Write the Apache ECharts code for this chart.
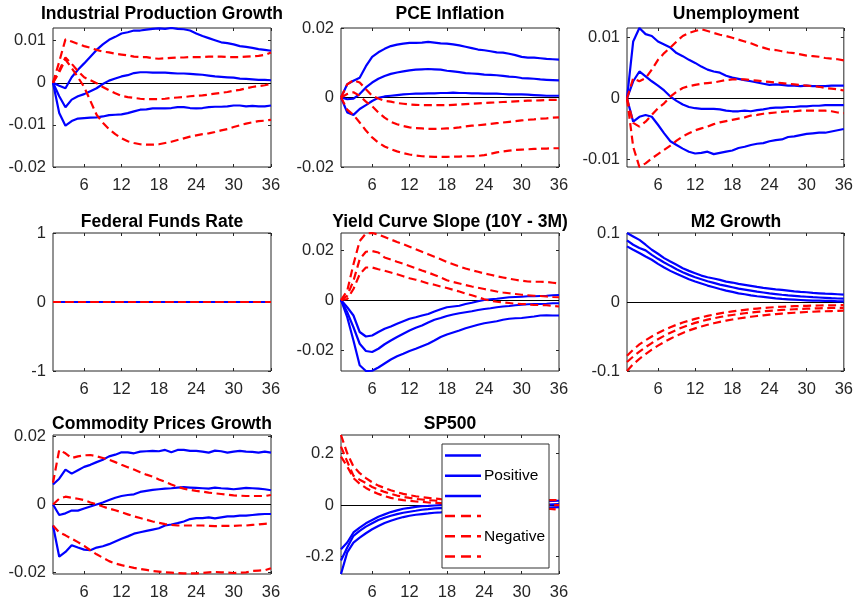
<!DOCTYPE html>
<html>
<head>
<meta charset="utf-8">
<script src="https://cdn.jsdelivr.net/npm/echarts@6/dist/echarts.min.js"></script>
<style>
  html, body { margin: 0; padding: 0; background: #fff; }
  #chart { width: 856px; height: 601px; }
</style>
</head>
<body>
<div id="chart"></div>
<script>
// Impulse responses over a 36-month horizon: median and bands for a
// positive shock (solid blue) and a negative shock (dashed red).
const horizons = [1, 2, 3, 4, 5, 6, 7, 8, 9, 10, 11, 12, 13, 14, 15, 16, 17, 18,
  19, 20, 21, 22, 23, 24, 25, 26, 27, 28, 29, 30, 31, 32, 33, 34, 35, 36];
const xTicks = [6, 12, 18, 24, 30, 36];

const panelTitles = ['Industrial Production Growth', 'PCE Inflation', 'Unemployment',
  'Federal Funds Rate', 'Yield Curve Slope (10Y - 3M)', 'M2 Growth',
  'Commodity Prices Growth', 'SP500'];
const yTicks = [
  [-0.02, -0.01, 0, 0.01],
  [-0.02, 0, 0.02],
  [-0.01, 0, 0.01],
  [-1, 0, 1],
  [-0.02, 0, 0.02],
  [-0.1, 0, 0.1],
  [-0.02, 0, 0.02],
  [-0.2, 0, 0.2]
];
const yMin = [-0.02, -0.02, -0.0112, -1, -0.0284, -0.1, -0.0205, -0.267];
const yMax = [0.013, 0.02, 0.0115, 1, 0.0268, 0.1, 0.0205, 0.272];

// Industrial production growth
const ipPosHi = [0, -0.0007, -0.0013, 0.0013, 0.0031, 0.0046, 0.0062, 0.0078, 0.0091, 0.0102, 0.0109, 0.0117, 0.012, 0.0124, 0.0124, 0.0126, 0.0128, 0.0129, 0.0128, 0.013, 0.0128, 0.0127, 0.0124, 0.0117, 0.0111, 0.0106, 0.0101, 0.0096, 0.0094, 0.0091, 0.0087, 0.0085, 0.0083, 0.008, 0.0078, 0.0076];
const ipPosMid = [0, -0.0032, -0.0058, -0.004, -0.0032, -0.0027, -0.002, -0.0013, -0.0003, 0.0005, 0.001, 0.0015, 0.0018, 0.0023, 0.0025, 0.0025, 0.0024, 0.0024, 0.0024, 0.0023, 0.0022, 0.0022, 0.0021, 0.002, 0.0019, 0.0017, 0.0015, 0.0014, 0.0013, 0.0012, 0.001, 0.0009, 0.0008, 0.0007, 0.0007, 0.0006];
const ipPosLo = [0, -0.0072, -0.0102, -0.0091, -0.0085, -0.0084, -0.0083, -0.0082, -0.008, -0.0077, -0.0076, -0.0075, -0.0072, -0.0068, -0.0064, -0.0063, -0.0061, -0.0061, -0.0061, -0.006, -0.0058, -0.0058, -0.006, -0.0061, -0.006, -0.0058, -0.0057, -0.0057, -0.0056, -0.0054, -0.0054, -0.0056, -0.0055, -0.0056, -0.0056, -0.0054];
const ipNegHi = [0, 0.005, 0.0103, 0.0098, 0.0092, 0.0087, 0.0083, 0.0078, 0.0074, 0.0072, 0.0069, 0.0067, 0.0065, 0.0062, 0.0061, 0.0061, 0.0058, 0.0057, 0.0058, 0.0059, 0.006, 0.006, 0.0061, 0.0061, 0.0061, 0.0062, 0.0062, 0.0062, 0.0061, 0.0061, 0.0061, 0.0062, 0.0063, 0.0064, 0.0066, 0.0072];
const ipNegMid = [0, 0.003, 0.006, 0.0045, 0.0028, 0.0013, 0.0006, -0.0001, -0.001, -0.0018, -0.0025, -0.0031, -0.0034, -0.0036, -0.0038, -0.0039, -0.0039, -0.0039, -0.0038, -0.0036, -0.0035, -0.0034, -0.0032, -0.0031, -0.003, -0.0028, -0.0026, -0.0024, -0.0022, -0.0019, -0.0017, -0.0013, -0.001, -0.0008, -0.0006, -0.0003];
const ipNegLo = [0, 0.0025, 0.0055, 0.0035, 0.0013, -0.001, -0.0043, -0.0076, -0.0095, -0.011, -0.0122, -0.0132, -0.0139, -0.0143, -0.0146, -0.0147, -0.0147, -0.0146, -0.0143, -0.014, -0.0136, -0.0132, -0.0128, -0.0125, -0.0122, -0.012, -0.0117, -0.0113, -0.011, -0.0105, -0.0101, -0.0097, -0.0094, -0.0091, -0.009, -0.0088];

// PCE inflation
const pcePosHi = [0, 0.0038, 0.0048, 0.0057, 0.009, 0.0117, 0.013, 0.014, 0.0148, 0.0152, 0.0155, 0.0157, 0.0157, 0.0158, 0.016, 0.0158, 0.0156, 0.0155, 0.0153, 0.015, 0.0146, 0.0142, 0.0138, 0.0136, 0.0133, 0.013, 0.0129, 0.0126, 0.0122, 0.0117, 0.0115, 0.0115, 0.0113, 0.0111, 0.011, 0.0109];
const pcePosMid = [0, -0.0005, -0.0003, 0.001, 0.0029, 0.0043, 0.0054, 0.0062, 0.0068, 0.0072, 0.0075, 0.0078, 0.008, 0.0081, 0.0082, 0.0081, 0.008, 0.0077, 0.0075, 0.0073, 0.007, 0.0069, 0.0068, 0.0066, 0.0065, 0.0064, 0.0062, 0.006, 0.0059, 0.0056, 0.0055, 0.0054, 0.0052, 0.0051, 0.005, 0.0049];
const pcePosLo = [0, -0.0043, -0.005, -0.0033, -0.0022, -0.001, -0.0001, 0.0003, 0.0005, 0.0007, 0.0009, 0.001, 0.0011, 0.0011, 0.0012, 0.0012, 0.0013, 0.0013, 0.0014, 0.0013, 0.0013, 0.0012, 0.0012, 0.0011, 0.0011, 0.0011, 0.001, 0.0009, 0.0009, 0.0009, 0.0008, 0.0007, 0.0006, 0.0005, 0.0005, 0.0005];
const pceNegHi = [0, 0.0038, 0.005, 0.0043, 0.0024, 0.0005, -0.0003, -0.001, -0.0012, -0.0016, -0.0018, -0.002, -0.0021, -0.0022, -0.0022, -0.0022, -0.0022, -0.0022, -0.0021, -0.002, -0.0019, -0.0018, -0.0017, -0.0016, -0.0015, -0.0014, -0.0013, -0.0012, -0.0011, -0.001, -0.0009, -0.0009, -0.0008, -0.0007, -0.0007, -0.0007];
const pceNegMid = [0, 0.001, 0.0015, 0.0005, -0.0012, -0.0025, -0.0043, -0.0058, -0.007, -0.0077, -0.0082, -0.0086, -0.0088, -0.0089, -0.009, -0.009, -0.009, -0.0089, -0.0088, -0.0086, -0.0083, -0.0081, -0.008, -0.0078, -0.0076, -0.0074, -0.0072, -0.007, -0.0068, -0.0066, -0.0064, -0.0063, -0.0061, -0.006, -0.0058, -0.0057];
const pceNegLo = [0, -0.0035, -0.005, -0.0072, -0.0095, -0.0115, -0.013, -0.0141, -0.0149, -0.0155, -0.016, -0.0164, -0.0167, -0.0169, -0.017, -0.0171, -0.0171, -0.0171, -0.017, -0.017, -0.0169, -0.0169, -0.0168, -0.0166, -0.0162, -0.0158, -0.0155, -0.0153, -0.0151, -0.015, -0.0149, -0.0148, -0.0147, -0.0147, -0.0146, -0.0146];

// Unemployment
const unPosHi = [0, 0.0093, 0.0115, 0.0105, 0.0102, 0.0093, 0.0088, 0.0083, 0.0074, 0.0069, 0.0063, 0.0058, 0.0052, 0.0047, 0.0044, 0.0042, 0.0037, 0.0034, 0.0032, 0.003, 0.0028, 0.0026, 0.0024, 0.0022, 0.0023, 0.0022, 0.0021, 0.0021, 0.002, 0.0021, 0.002, 0.002, 0.002, 0.0021, 0.0021, 0.0021];
const unPosMid = [0, 0.0028, 0.0044, 0.0036, 0.0028, 0.0021, 0.0013, 0.0003, -0.0004, -0.001, -0.0014, -0.0016, -0.0017, -0.0017, -0.0017, -0.0018, -0.002, -0.0021, -0.0021, -0.002, -0.0021, -0.0019, -0.0018, -0.0016, -0.0015, -0.0015, -0.0014, -0.0014, -0.0013, -0.0013, -0.0012, -0.0012, -0.0011, -0.0011, -0.0011, -0.0011];
const unPosLo = [0, -0.0038, -0.003, -0.0027, -0.003, -0.0043, -0.0057, -0.007, -0.0076, -0.0082, -0.0087, -0.009, -0.0089, -0.0087, -0.0091, -0.0089, -0.0087, -0.0085, -0.0081, -0.0079, -0.0076, -0.0074, -0.0073, -0.007, -0.0068, -0.0067, -0.0063, -0.0062, -0.006, -0.0058, -0.0057, -0.0056, -0.0056, -0.0054, -0.0052, -0.005];
const unNegHi = [0, 0.0033, 0.0028, 0.0033, 0.0047, 0.0063, 0.0074, 0.0083, 0.0093, 0.0102, 0.0107, 0.011, 0.0113, 0.011, 0.0107, 0.0104, 0.0102, 0.0099, 0.0096, 0.0093, 0.009, 0.0086, 0.0083, 0.008, 0.0079, 0.0077, 0.0075, 0.0074, 0.0072, 0.007, 0.0069, 0.0068, 0.0066, 0.0065, 0.0064, 0.0062];
const unNegMid = [0, -0.004, -0.0046, -0.0038, -0.0027, -0.0016, -0.0008, 0.0003, 0.0011, 0.0017, 0.002, 0.0022, 0.0024, 0.0025, 0.0026, 0.0028, 0.003, 0.0031, 0.0031, 0.0031, 0.003, 0.0029, 0.0028, 0.0027, 0.0026, 0.0025, 0.0024, 0.0023, 0.0022, 0.0021, 0.002, 0.0019, 0.0017, 0.0016, 0.0015, 0.0013];
const unNegLo = [0, -0.0079, -0.0112, -0.0106, -0.0098, -0.0091, -0.0084, -0.0077, -0.0069, -0.0062, -0.0057, -0.0052, -0.0049, -0.0046, -0.0042, -0.0039, -0.0037, -0.0035, -0.0033, -0.0031, -0.0028, -0.0027, -0.0025, -0.0024, -0.0023, -0.0022, -0.0021, -0.0021, -0.002, -0.002, -0.002, -0.002, -0.002, -0.0021, -0.0023, -0.0024];

// Federal funds rate (held fixed)
const ffPosHi = [0, 0, 0, 0, 0, 0, 0, 0, 0, 0, 0, 0, 0, 0, 0, 0, 0, 0, 0, 0, 0, 0, 0, 0, 0, 0, 0, 0, 0, 0, 0, 0, 0, 0, 0, 0];
const ffPosMid = [0, 0, 0, 0, 0, 0, 0, 0, 0, 0, 0, 0, 0, 0, 0, 0, 0, 0, 0, 0, 0, 0, 0, 0, 0, 0, 0, 0, 0, 0, 0, 0, 0, 0, 0, 0];
const ffPosLo = [0, 0, 0, 0, 0, 0, 0, 0, 0, 0, 0, 0, 0, 0, 0, 0, 0, 0, 0, 0, 0, 0, 0, 0, 0, 0, 0, 0, 0, 0, 0, 0, 0, 0, 0, 0];
const ffNegHi = [0, 0, 0, 0, 0, 0, 0, 0, 0, 0, 0, 0, 0, 0, 0, 0, 0, 0, 0, 0, 0, 0, 0, 0, 0, 0, 0, 0, 0, 0, 0, 0, 0, 0, 0, 0];
const ffNegMid = [0, 0, 0, 0, 0, 0, 0, 0, 0, 0, 0, 0, 0, 0, 0, 0, 0, 0, 0, 0, 0, 0, 0, 0, 0, 0, 0, 0, 0, 0, 0, 0, 0, 0, 0, 0];
const ffNegLo = [0, 0, 0, 0, 0, 0, 0, 0, 0, 0, 0, 0, 0, 0, 0, 0, 0, 0, 0, 0, 0, 0, 0, 0, 0, 0, 0, 0, 0, 0, 0, 0, 0, 0, 0, 0];

// Yield curve slope
const ycPosHi = [0, -0.0029, -0.0062, -0.0128, -0.0146, -0.0142, -0.0128, -0.0115, -0.0106, -0.0095, -0.0085, -0.0075, -0.0069, -0.0062, -0.0056, -0.0046, -0.0037, -0.0029, -0.0026, -0.0023, -0.0016, -0.0011, -0.0005, 0, 0.0003, 0.0005, 0.0008, 0.0011, 0.0012, 0.0013, 0.0015, 0.0015, 0.0016, 0.0017, 0.0019, 0.002];
const ycPosMid = [0, -0.0049, -0.0109, -0.0175, -0.0204, -0.0208, -0.0195, -0.0177, -0.0162, -0.0148, -0.0135, -0.0122, -0.0111, -0.0102, -0.009, -0.0079, -0.0072, -0.0064, -0.0058, -0.0053, -0.0049, -0.0045, -0.004, -0.0036, -0.0033, -0.0029, -0.0026, -0.0024, -0.0021, -0.0019, -0.0017, -0.0016, -0.0016, -0.0015, -0.0013, -0.0013];
const ycPosLo = [0, -0.0069, -0.0162, -0.0261, -0.0284, -0.0283, -0.027, -0.0254, -0.0238, -0.0225, -0.0215, -0.0204, -0.0195, -0.0185, -0.0175, -0.0162, -0.0148, -0.0138, -0.013, -0.0122, -0.0113, -0.0106, -0.0099, -0.0093, -0.0089, -0.0085, -0.0079, -0.0075, -0.0073, -0.0072, -0.0069, -0.0066, -0.0062, -0.0061, -0.0062, -0.0062];
const ycNegHi = [0, 0.0037, 0.0143, 0.0236, 0.0266, 0.0268, 0.0262, 0.0252, 0.0242, 0.0232, 0.0223, 0.0213, 0.0203, 0.0193, 0.0183, 0.0173, 0.0163, 0.0152, 0.0143, 0.0134, 0.0126, 0.0119, 0.0113, 0.0106, 0.0101, 0.0095, 0.009, 0.0085, 0.0081, 0.0077, 0.0074, 0.0073, 0.0073, 0.0072, 0.0069, 0.0066];
const ycNegMid = [0, 0.0017, 0.0077, 0.0163, 0.0193, 0.0196, 0.019, 0.017, 0.0162, 0.0153, 0.0145, 0.0136, 0.0127, 0.0118, 0.011, 0.01, 0.009, 0.0079, 0.0072, 0.0066, 0.006, 0.0054, 0.0049, 0.0044, 0.0039, 0.0034, 0.003, 0.0027, 0.0024, 0.0021, 0.0019, 0.0017, 0.0016, 0.0014, 0.0012, 0.0011];
const ycNegLo = [0, 0.0004, 0.0044, 0.0103, 0.013, 0.013, 0.0123, 0.0117, 0.011, 0.0103, 0.0095, 0.0087, 0.0081, 0.0074, 0.0066, 0.0061, 0.0054, 0.0048, 0.0041, 0.0034, 0.0026, 0.0019, 0.0011, 0.0003, -0.0003, -0.0007, -0.0009, -0.0012, -0.0015, -0.0016, -0.0017, -0.002, -0.002, -0.0021, -0.0024, -0.0026];

// M2 growth
const m2PosHi = [0.1, 0.095, 0.09, 0.083, 0.0757, 0.0699, 0.0636, 0.0587, 0.0539, 0.049, 0.0451, 0.0417, 0.0383, 0.0359, 0.034, 0.032, 0.0296, 0.0282, 0.0262, 0.0248, 0.0233, 0.0218, 0.0204, 0.0194, 0.0184, 0.0175, 0.0165, 0.0155, 0.0146, 0.0141, 0.0131, 0.0126, 0.0121, 0.0117, 0.0112, 0.0107];
const m2PosMid = [0.0893, 0.083, 0.0782, 0.0748, 0.0684, 0.0626, 0.0573, 0.0524, 0.0476, 0.0432, 0.0393, 0.0359, 0.033, 0.0301, 0.0277, 0.0252, 0.0233, 0.0214, 0.0194, 0.018, 0.0165, 0.015, 0.0138, 0.0125, 0.0115, 0.0105, 0.0096, 0.0089, 0.0082, 0.0076, 0.007, 0.0065, 0.006, 0.0055, 0.0051, 0.0048];
const m2PosLo = [0.0806, 0.0757, 0.0709, 0.066, 0.0612, 0.0553, 0.05, 0.0451, 0.0408, 0.0369, 0.033, 0.0296, 0.0267, 0.0238, 0.0214, 0.0189, 0.0165, 0.0146, 0.0126, 0.0112, 0.0097, 0.0083, 0.0073, 0.0063, 0.0053, 0.0044, 0.0039, 0.0034, 0.0029, 0.0024, 0.0019, 0.0019, 0.0015, 0.0015, 0.001, 0.001];
const m2NegHi = [-0.078, -0.069, -0.0615, -0.0555, -0.05, -0.045, -0.0405, -0.0365, -0.033, -0.0298, -0.027, -0.0245, -0.0222, -0.0201, -0.0182, -0.0165, -0.015, -0.0137, -0.0125, -0.0114, -0.0104, -0.0095, -0.0087, -0.008, -0.0074, -0.0069, -0.0065, -0.0061, -0.0058, -0.0055, -0.0053, -0.0051, -0.0049, -0.0048, -0.0047, -0.0046];
const m2NegMid = [-0.087, -0.079, -0.072, -0.0655, -0.0595, -0.054, -0.049, -0.0445, -0.0403, -0.0365, -0.0332, -0.0303, -0.0278, -0.0256, -0.0236, -0.0218, -0.0202, -0.0188, -0.0175, -0.0163, -0.0152, -0.0143, -0.0135, -0.0128, -0.0121, -0.0115, -0.011, -0.0105, -0.0101, -0.0097, -0.0094, -0.0091, -0.0089, -0.0087, -0.0085, -0.0084];
const m2NegLo = [-0.1, -0.09, -0.0825, -0.0755, -0.069, -0.0632, -0.058, -0.0532, -0.0488, -0.0448, -0.0413, -0.0382, -0.0355, -0.033, -0.0308, -0.0288, -0.027, -0.0254, -0.0239, -0.0226, -0.0214, -0.0203, -0.0193, -0.0184, -0.0176, -0.0168, -0.0162, -0.0156, -0.015, -0.0145, -0.0141, -0.0137, -0.0134, -0.0131, -0.0128, -0.0126];

// Commodity prices growth
const cpPosHi = [0.0059, 0.0076, 0.0103, 0.0091, 0.0101, 0.0111, 0.0117, 0.0125, 0.0132, 0.0142, 0.0147, 0.0154, 0.0154, 0.0151, 0.0156, 0.0157, 0.0158, 0.0157, 0.0161, 0.0154, 0.0161, 0.0161, 0.0158, 0.0158, 0.0156, 0.0153, 0.0159, 0.0157, 0.0153, 0.0156, 0.0158, 0.0156, 0.0155, 0.0153, 0.0156, 0.0153];
const cpPosMid = [0, -0.0031, -0.0026, -0.0018, -0.0018, -0.0012, -0.0006, 0, 0.0006, 0.0013, 0.002, 0.0025, 0.0028, 0.003, 0.0037, 0.004, 0.0043, 0.0045, 0.0047, 0.0048, 0.005, 0.0051, 0.005, 0.0049, 0.0048, 0.0047, 0.005, 0.0048, 0.0047, 0.0045, 0.0047, 0.0049, 0.0048, 0.0047, 0.0045, 0.0042];
const cpPosLo = [-0.0062, -0.0154, -0.014, -0.012, -0.0127, -0.0133, -0.0135, -0.0127, -0.0123, -0.0117, -0.0109, -0.0101, -0.0094, -0.0086, -0.0082, -0.0078, -0.0074, -0.007, -0.0062, -0.0059, -0.0055, -0.005, -0.0043, -0.004, -0.004, -0.0038, -0.0041, -0.0038, -0.0035, -0.0035, -0.0033, -0.0033, -0.0031, -0.0029, -0.0028, -0.0028];
const cpNegHi = [0.0064, 0.0161, 0.0151, 0.0137, 0.0142, 0.0145, 0.0146, 0.0142, 0.0137, 0.0132, 0.0125, 0.0117, 0.011, 0.0103, 0.0095, 0.0088, 0.0082, 0.0074, 0.0067, 0.0059, 0.0052, 0.0047, 0.0043, 0.004, 0.0038, 0.0035, 0.0033, 0.0031, 0.0029, 0.0027, 0.0026, 0.0025, 0.0025, 0.0025, 0.0025, 0.0028];
const cpNegMid = [0, 0.0017, 0.0023, 0.002, 0.0017, 0.0013, 0.0006, 0.0001, -0.0006, -0.0012, -0.0017, -0.0023, -0.0029, -0.0035, -0.004, -0.0045, -0.005, -0.0054, -0.0058, -0.006, -0.0062, -0.0062, -0.0062, -0.0062, -0.0062, -0.0063, -0.0064, -0.0063, -0.0063, -0.0063, -0.0062, -0.0062, -0.006, -0.0059, -0.0057, -0.0055];
const cpNegLo = [-0.0062, -0.0082, -0.0091, -0.0101, -0.0111, -0.0122, -0.0135, -0.0147, -0.0157, -0.0167, -0.0174, -0.0179, -0.0183, -0.0187, -0.019, -0.0193, -0.0196, -0.0198, -0.02, -0.0201, -0.0202, -0.0203, -0.0203, -0.0203, -0.0202, -0.02, -0.0199, -0.02, -0.0201, -0.0202, -0.0201, -0.02, -0.0196, -0.0195, -0.0194, -0.0188];

// SP500
const spPosHi = [-0.171, -0.145, -0.106, -0.0872, -0.0705, -0.0577, -0.0449, -0.0359, -0.0269, -0.0205, -0.0141, -0.0103, -0.0064, -0.0038, -0.0026, -0.0013, 0, 0.0013, 0.002, 0.003, 0.0042, 0.0051, 0.0063, 0.0072, 0.0084, 0.0092, 0.0103, 0.011, 0.0121, 0.0128, 0.0136, 0.0142, 0.0149, 0.0158, 0.0165, 0.017];
const spPosMid = [-0.215, -0.164, -0.119, -0.1, -0.0833, -0.0705, -0.0577, -0.0487, -0.041, -0.0346, -0.0295, -0.0256, -0.0218, -0.0179, -0.0154, -0.0128, -0.0115, -0.0103, -0.0092, -0.0082, -0.0074, -0.0066, -0.0058, -0.005, -0.0043, -0.0036, -0.003, -0.0023, -0.0017, -0.0011, -0.0005, 0.0002, 0.0011, 0.0022, 0.0032, 0.004];
const spPosLo = [-0.267, -0.183, -0.145, -0.126, -0.109, -0.0936, -0.0808, -0.0692, -0.0603, -0.0526, -0.0462, -0.041, -0.0372, -0.0346, -0.0321, -0.0295, -0.0282, -0.0256, -0.0241, -0.0227, -0.0214, -0.0201, -0.019, -0.018, -0.017, -0.0161, -0.0152, -0.0143, -0.0135, -0.0127, -0.0118, -0.011, -0.0102, -0.0094, -0.0087, -0.008];
const spNegHi = [0.272, 0.201, 0.15, 0.124, 0.105, 0.0885, 0.0756, 0.0667, 0.0577, 0.05, 0.0436, 0.0385, 0.0346, 0.0308, 0.0282, 0.0256, 0.0231, 0.0218, 0.0205, 0.0196, 0.0189, 0.0183, 0.0179, 0.0176, 0.0174, 0.0173, 0.0174, 0.0176, 0.0179, 0.0182, 0.0185, 0.0188, 0.0191, 0.0194, 0.0197, 0.02];
const spNegMid = [0.227, 0.169, 0.114, 0.0987, 0.0859, 0.0705, 0.0603, 0.0513, 0.0436, 0.0372, 0.0321, 0.0282, 0.0244, 0.0218, 0.0192, 0.018, 0.0154, 0.0141, 0.0128, 0.0116, 0.0105, 0.0095, 0.0086, 0.0077, 0.0069, 0.0061, 0.0053, 0.0046, 0.0039, 0.0032, 0.0026, 0.002, 0.0014, 0.0009, 0.0004, 0];
const spNegLo = [0.188, 0.15, 0.105, 0.0833, 0.0667, 0.0538, 0.0436, 0.0346, 0.0282, 0.0231, 0.0192, 0.0167, 0.0141, 0.0128, 0.0103, 0.009, 0.0077, 0.0064, 0.0052, 0.004, 0.0028, 0.0016, 0.0004, -0.0008, -0.0019, -0.003, -0.0042, -0.0054, -0.0066, -0.0079, -0.0092, -0.0106, -0.012, -0.0135, -0.0155, -0.018];

const panelSeries = [
  [ipPosHi, ipPosMid, ipPosLo, ipNegHi, ipNegMid, ipNegLo],
  [pcePosHi, pcePosMid, pcePosLo, pceNegHi, pceNegMid, pceNegLo],
  [unPosHi, unPosMid, unPosLo, unNegHi, unNegMid, unNegLo],
  [ffPosHi, ffPosMid, ffPosLo, ffNegHi, ffNegMid, ffNegLo],
  [ycPosHi, ycPosMid, ycPosLo, ycNegHi, ycNegMid, ycNegLo],
  [m2PosHi, m2PosMid, m2PosLo, m2NegHi, m2NegMid, m2NegLo],
  [cpPosHi, cpPosMid, cpPosLo, cpNegHi, cpNegMid, cpNegLo],
  [spPosHi, spPosMid, spPosLo, spNegHi, spNegMid, spNegLo]
];
const seriesNames = ['Positive (upper)', 'Positive', 'Positive (lower)',
  'Negative (upper)', 'Negative', 'Negative (lower)'];

// ---- layout and styling ----
const FONT = '"Liberation Sans", Arial, Helvetica, sans-serif';
const AXIS_COLOR = '#262626';
const BLUE = '#0000ff';
const RED = '#ff0000';
const colLeft = [53, 341, 627];
const plotWidth = 218;
const rowTop = [28, 233, 435];
const rowHeight = [139, 138, 140];
const titleY = [14, 222, 424];

const grids = [], xAxes = [], yAxes = [], series = [], titles = [];
const tick = { show: true, inside: true, length: 3, lineStyle: { color: AXIS_COLOR, width: 1 } };

panelTitles.forEach((name, i) => {
  const col = i % 3, row = Math.floor(i / 3);
  grids.push({
    left: colLeft[col], top: rowTop[row], width: plotWidth, height: rowHeight[row],
    show: true, borderColor: AXIS_COLOR, borderWidth: 1, backgroundColor: '#fff'
  });
  titles.push({
    text: name, left: colLeft[col] + plotWidth / 2, top: titleY[row],
    textAlign: 'center', textVerticalAlign: 'middle', padding: 0,
    textStyle: { fontSize: 17.5, fontWeight: 'bold', color: '#000', fontFamily: FONT }
  });
  const xBase = {
    type: 'value', gridIndex: i, min: 1, max: 36,
    axisLine: { show: false, onZero: false }, splitLine: { show: false }
  };
  xAxes.push(Object.assign({}, xBase, {
    position: 'bottom',
    axisTick: Object.assign({}, tick, { customValues: xTicks }),
    axisLabel: { customValues: xTicks, margin: 10, fontSize: 16.5, color: AXIS_COLOR, fontFamily: FONT }
  }));
  xAxes.push(Object.assign({}, xBase, {
    position: 'top',
    axisTick: Object.assign({}, tick, { customValues: xTicks }),
    axisLabel: { show: false, customValues: xTicks }
  }));
  const yBase = {
    type: 'value', gridIndex: i, min: yMin[i], max: yMax[i],
    axisLine: { show: false, onZero: false }, splitLine: { show: false }
  };
  yAxes.push(Object.assign({}, yBase, {
    position: 'left',
    axisTick: Object.assign({}, tick, { customValues: yTicks[i] }),
    axisLabel: {
      customValues: yTicks[i], margin: 7, fontSize: 16.5, color: AXIS_COLOR, fontFamily: FONT,
      formatter: v => String(v)
    }
  }));
  yAxes.push(Object.assign({}, yBase, {
    position: 'right',
    axisTick: Object.assign({}, tick, { customValues: yTicks[i] }),
    axisLabel: { show: false, customValues: yTicks[i] }
  }));

  panelSeries[i].forEach((vals, k) => {
    const positive = k < 3;
    const s = {
      type: 'line', name: seriesNames[k], xAxisIndex: 2 * i, yAxisIndex: 2 * i,
      data: horizons.map((h, j) => [h, vals[j]]),
      symbol: 'none', silent: true, animation: false,
      color: positive ? BLUE : RED,
      lineStyle: { color: positive ? BLUE : RED, width: 2.2, type: positive ? 'solid' : [8, 4.5] },
      emphasis: { disabled: true }
    };
    if (k === 0) {
      s.markLine = {
        silent: true, symbol: 'none', z: 1, animation: false,
        label: { show: false },
        lineStyle: { color: '#000', width: 1, type: 'solid' },
        data: [{ yAxis: 0 }]
      };
    }
    series.push(s);
  });
});

// Legend keys: a solid bar for the positive shock, three dashes for the negative one.
const solidIcon = 'path://M0,0H36V2.5H0Z';
const dashIcon = 'path://M0,0H10V2.5H0Z M16,0H26V2.5H16Z M32,0H36V2.5H32Z';
const legendData = seriesNames.map((n, k) => ({
  name: n,
  icon: k < 3 ? solidIcon : dashIcon,
  itemStyle: { color: k < 3 ? BLUE : RED, borderWidth: 0 }
}));

const chart = echarts.init(document.getElementById('chart'), null, { renderer: 'canvas' });
chart.setOption({
  backgroundColor: '#fff',
  animation: false,
  title: titles,
  grid: grids,
  xAxis: xAxes,
  yAxis: yAxes,
  legend: {
    data: legendData,
    orient: 'vertical', left: 442, top: 444,
    padding: [3.5, 3, 3.5, 3], itemGap: 4.2,
    itemWidth: 36, itemHeight: 16, symbolKeepAspect: true,
    selectedMode: false,
    backgroundColor: '#fff', borderColor: '#333', borderWidth: 1,
    textStyle: { fontSize: 15.5, lineHeight: 16, height: 16, width: 62, color: '#000', fontFamily: FONT, padding: [0, 0, 0, -2] },
    // only the middle key of each shock carries its label
    formatter: name => (name === 'Positive' || name === 'Negative') ? name : ' '
  },
  series: series
});
</script>
</body>
</html>
